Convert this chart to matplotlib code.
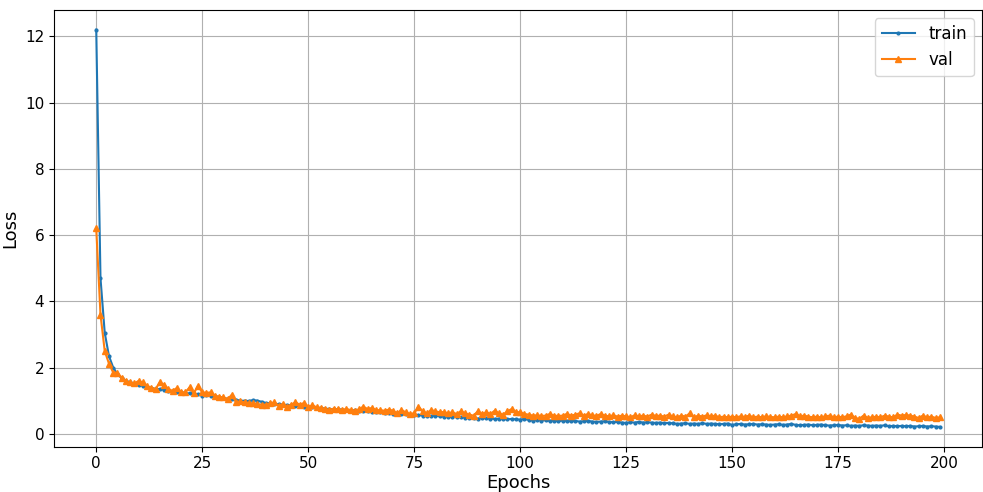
import matplotlib
matplotlib.use('Agg')
import matplotlib.pyplot as plt

# loss por epoca
train_loss = [
    12.2, 4.7, 3.05, 2.35, 2.0, 1.8, 1.68, 1.6, 1.55, 1.5,
    1.48, 1.45, 1.42, 1.38, 1.36, 1.35, 1.33, 1.3, 1.28, 1.27,
    1.25, 1.23, 1.22, 1.21, 1.2, 1.15, 1.17, 1.15, 1.13, 1.1,
    1.08, 1.06, 1.05, 1.03, 1.0, 1.0, 0.99, 1.02, 1.0, 0.97,
    0.93, 0.92, 0.9, 0.9, 0.88, 0.87, 0.86, 0.85, 0.84, 0.82,
    0.8, 0.81, 0.79, 0.78, 0.76, 0.75, 0.74, 0.74, 0.73, 0.72,
    0.7, 0.71, 0.7, 0.69, 0.68, 0.66, 0.67, 0.65, 0.64, 0.63,
    0.6, 0.62, 0.6, 0.59, 0.58, 0.56, 0.57, 0.55, 0.55, 0.54,
    0.55, 0.53, 0.52, 0.52, 0.5, 0.51, 0.5, 0.49, 0.48, 0.47,
    0.46, 0.48, 0.47, 0.46, 0.45, 0.46, 0.45, 0.44, 0.45, 0.44,
    0.43, 0.45, 0.42, 0.4, 0.42, 0.4, 0.41, 0.39, 0.4, 0.38,
    0.4, 0.39, 0.38, 0.39, 0.37, 0.38, 0.39, 0.37, 0.36, 0.37,
    0.38, 0.36, 0.35, 0.36, 0.34, 0.33, 0.35, 0.34, 0.36, 0.34,
    0.35, 0.34, 0.33, 0.34, 0.32, 0.33, 0.32, 0.3, 0.31, 0.32,
    0.3, 0.31, 0.3, 0.32, 0.3, 0.31, 0.3, 0.29, 0.3, 0.31,
    0.27, 0.29, 0.3, 0.28, 0.29, 0.3, 0.28, 0.29, 0.28, 0.27,
    0.28, 0.29, 0.27, 0.28, 0.3, 0.27, 0.26, 0.27, 0.28, 0.26,
    0.27, 0.28, 0.26, 0.25, 0.26, 0.27, 0.25, 0.26, 0.24, 0.25,
    0.24, 0.26, 0.25, 0.24, 0.25, 0.24, 0.26, 0.23, 0.24, 0.23,
    0.24, 0.23, 0.24, 0.22, 0.23, 0.24, 0.22, 0.23, 0.22, 0.21,
]

val_loss = [
    6.2, 3.6, 2.5, 2.12, 1.85, 1.85, 1.68, 1.58, 1.55, 1.52,
    1.6, 1.55, 1.45, 1.38, 1.36, 1.55, 1.48, 1.35, 1.3, 1.38,
    1.25, 1.25, 1.4, 1.22, 1.45, 1.25, 1.24, 1.25, 1.15, 1.12,
    1.1, 1.05, 1.18, 0.95, 0.98, 0.95, 0.93, 0.92, 0.9, 0.88,
    0.88, 0.92, 0.95, 0.85, 0.9, 0.82, 0.88, 0.95, 0.88, 0.93,
    0.82, 0.86, 0.8, 0.78, 0.75, 0.73, 0.76, 0.74, 0.72, 0.75,
    0.72, 0.7, 0.74, 0.82, 0.75, 0.78, 0.72, 0.71, 0.7, 0.73,
    0.7, 0.62, 0.72, 0.65, 0.6, 0.62, 0.82, 0.68, 0.62, 0.72,
    0.68, 0.65, 0.66, 0.62, 0.65, 0.6, 0.68, 0.62, 0.58, 0.55,
    0.68, 0.6, 0.65, 0.6, 0.7, 0.62, 0.58, 0.68, 0.75, 0.66,
    0.65, 0.6, 0.58, 0.55, 0.56, 0.54, 0.55, 0.6, 0.55, 0.54,
    0.55, 0.6, 0.55, 0.58, 0.62, 0.55, 0.6, 0.56, 0.54, 0.6,
    0.55, 0.53, 0.56, 0.52, 0.55, 0.53, 0.5, 0.56, 0.53, 0.55,
    0.52, 0.58, 0.54, 0.55, 0.52, 0.58, 0.53, 0.5, 0.55, 0.52,
    0.62, 0.5, 0.55, 0.52, 0.56, 0.53, 0.55, 0.5, 0.52, 0.5,
    0.52, 0.5, 0.53, 0.51, 0.55, 0.5, 0.52, 0.5, 0.53, 0.51,
    0.5, 0.52, 0.5, 0.53, 0.55, 0.6, 0.53, 0.55, 0.52, 0.5,
    0.52, 0.5, 0.53, 0.55, 0.5, 0.52, 0.5, 0.53, 0.58, 0.48,
    0.45, 0.55, 0.48, 0.5, 0.52, 0.5, 0.55, 0.52, 0.5, 0.58,
    0.55, 0.57, 0.55, 0.52, 0.48, 0.55, 0.5, 0.52, 0.48, 0.5,
]

epochs = list(range(len(train_loss)))

fig = plt.figure(figsize=(9.83, 4.92), dpi=100)
ax = fig.add_axes([0.055, 0.092, 0.944, 0.888])

ax.plot(epochs, train_loss, marker='.', markersize=4, label='train', color='#1f77b4')
ax.plot(epochs, val_loss, marker='^', markersize=5, label='val', color='#ff7f0e')

ax.set_xlabel('Epochs', fontsize=13, labelpad=2)
ax.set_ylabel('Loss', fontsize=13, labelpad=4)
ax.tick_params(labelsize=11)
ax.set_xticks([0, 25, 50, 75, 100, 125, 150, 175, 200])
ax.set_yticks([0, 2, 4, 6, 8, 10, 12])
ax.grid(True, color='#b0b0b0', linewidth=0.8)
ax.legend(loc='upper right', fontsize=12)

plt.savefig('out.png', dpi=100)
